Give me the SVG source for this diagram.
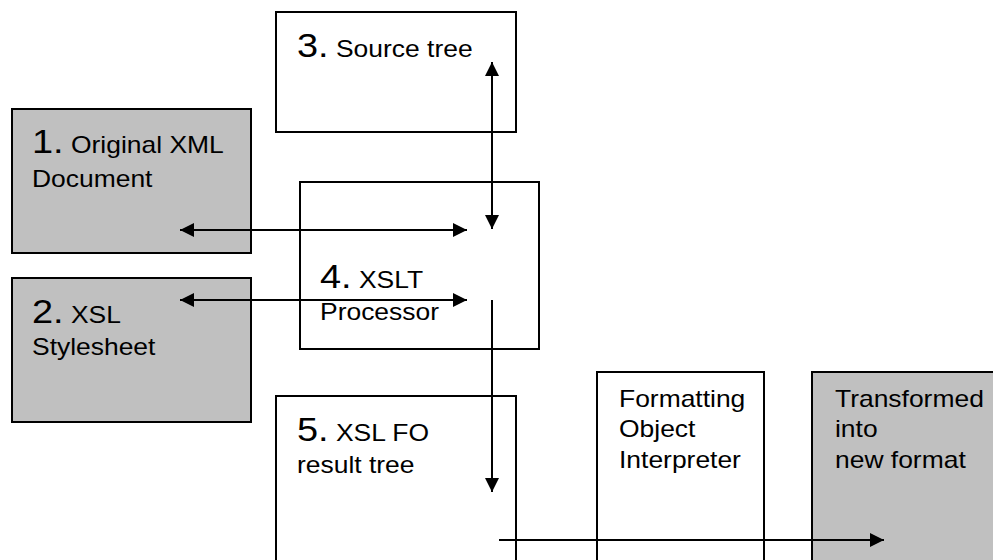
<svg xmlns="http://www.w3.org/2000/svg" width="993" height="560" viewBox="0 0 993 560">
<defs>
<style>
.box{stroke:#000;stroke-width:2;fill:#fff}
.grey{fill:#c0c0c0}
.t{font-family:"Liberation Sans",Arial,sans-serif;font-size:23px;fill:#000}
.big{font-size:33px}
.ln{stroke:#000;stroke-width:2;fill:none}
</style>
<marker id="ah" markerWidth="14" markerHeight="14" viewBox="0 0 14 14" refX="14" refY="7" orient="auto-start-reverse" markerUnits="userSpaceOnUse">
<path d="M0,0 L14,7 L0,14 Z" fill="#000"/>
</marker>
</defs>
<rect width="993" height="560" fill="#fff"/>
<g id="node1">
<rect class="box grey" x="12" y="109" width="239" height="144"/>
<text class="t" transform="matrix(1.15 0 0 1 32 153)"><tspan class="big">1.</tspan> Original XML</text>
<text class="t" transform="matrix(1.15 0 0 1 32 187)">Document</text>
</g>
<g id="node2">
<rect class="box grey" x="12" y="278" width="239" height="144"/>
<text class="t" transform="matrix(1.15 0 0 1 32 323)"><tspan class="big">2.</tspan> XSL</text>
<text class="t" transform="matrix(1.15 0 0 1 32 355)">Stylesheet</text>
</g>
<g id="node3">
<rect class="box" x="276" y="12" width="240" height="120"/>
<text class="t" transform="matrix(1.15 0 0 1 297 57)"><tspan class="big">3.</tspan> Source tree</text>
</g>
<g id="node4">
<rect class="box" x="300" y="182" width="239" height="167"/>
<text class="t" transform="matrix(1.15 0 0 1 320 288)"><tspan class="big">4.</tspan> XSLT</text>
<text class="t" transform="matrix(1.15 0 0 1 320 320)">Processor</text>
</g>
<g id="node5">
<rect class="box" x="276" y="396" width="240" height="170"/>
<text class="t" transform="matrix(1.15 0 0 1 297 441)"><tspan class="big">5.</tspan> XSL FO</text>
<text class="t" transform="matrix(1.15 0 0 1 297 473)">result tree</text>
</g>
<g id="node6">
<rect class="box" x="597" y="372" width="167" height="194"/>
<text class="t" transform="matrix(1.15 0 0 1 619 407)">Formatting</text>
<text class="t" transform="matrix(1.15 0 0 1 619 437)">Object</text>
<text class="t" transform="matrix(1.15 0 0 1 619 468)">Interpreter</text>
</g>
<g id="node7">
<rect class="box grey" x="812" y="372" width="190" height="194"/>
<text class="t" transform="matrix(1.15 0 0 1 835 407)">Transformed</text>
<text class="t" transform="matrix(1.15 0 0 1 835 437)">into</text>
<text class="t" transform="matrix(1.15 0 0 1 835 468)">new format</text>
</g>
<g id="connectors">
<line class="ln" x1="180" y1="230" x2="467" y2="230" marker-start="url(#ah)" marker-end="url(#ah)"/>
<line class="ln" x1="180" y1="300" x2="467" y2="300" marker-start="url(#ah)" marker-end="url(#ah)"/>
<line class="ln" x1="492" y1="62" x2="492" y2="229" marker-start="url(#ah)" marker-end="url(#ah)"/>
<line class="ln" x1="492" y1="300" x2="492" y2="492" marker-end="url(#ah)"/>
<line class="ln" x1="499" y1="540" x2="884" y2="540" marker-end="url(#ah)"/>
</g>
</svg>
